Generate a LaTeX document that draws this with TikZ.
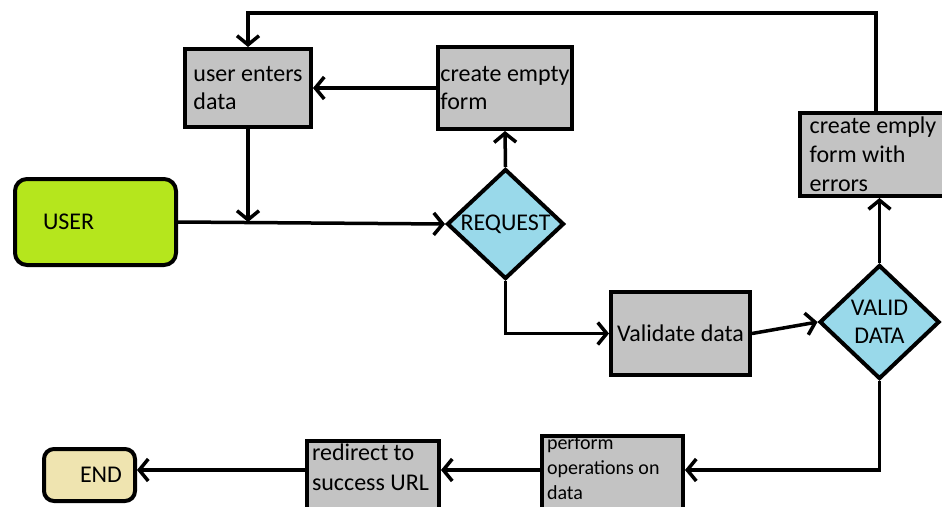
\documentclass[tikz,border=0pt]{standalone}
\usepackage{fontspec}
\setmainfont{Carlito}
\usetikzlibrary{shapes.geometric,arrows.meta}
\definecolor{boxgray}{HTML}{C3C3C3}
\definecolor{usergreen}{HTML}{B5E61D}
\definecolor{skyblue}{HTML}{99D9EA}
\definecolor{endsand}{HTML}{EFE4B0}

\begin{document}
\begin{tikzpicture}[x=1pt,y=-1pt,line width=4pt,
    every node/.style={font=\fontsize{24pt}{28pt}\selectfont,inner sep=0pt},
    box/.style={draw,fill=boxgray,align=left},
    term/.style={draw,rounded corners=12pt},
    dia/.style={diamond,draw,fill=skyblue,aspect=1,align=center},
    arr/.style={-{Straight Barb[length=9pt,width=22pt]},line width=3.5pt}]
  \useasboundingbox (0,0) rectangle (942,506);
  \clip (0,0) rectangle (942,506);
  \node[term,fill=usergreen,minimum width=161pt,minimum height=86pt,
    text width=105pt,inner xsep=28pt,align=flush left] (user) at (95.5,222) {USER};
  \node[box,minimum width=126pt,minimum height=78pt] (ued) at (248,88) {user enters\\data};
  \node[box,minimum width=134pt,minimum height=82pt] (cef) at (505,88) {create empty\\form};
  \node[dia,minimum width=117pt,minimum height=110pt] (req) at (505.5,224) {REQUEST};
  \node[box,minimum width=139pt,minimum height=83pt] (val) at (680.5,333.5) {Validate data};
  \node[dia,minimum width=120pt,minimum height=114pt] (vd) at (879.5,322) {VALID\\DATA};
  \node[box,minimum width=146pt,minimum height=83pt,
    font=\fontsize{24pt}{29pt}\selectfont] (cee) at (873,154.5) {create emply\\form with\\errors};
  \node[box,anchor=north,minimum width=141pt,text width=131pt,inner xsep=5pt,align=flush left,
    text depth=60pt,font=\fontsize{20pt}{25pt}\selectfont] (perf) at (612.5,434)
    {perform\\operations on\\data};
  \node[box,anchor=north,minimum width=132pt,text width=122pt,inner xsep=5pt,inner ysep=3pt,
    align=flush left,text depth=50pt,font=\fontsize{24pt}{30pt}\selectfont] (red) at (373,439)
    {redirect to\\success URL};
  \node[term,fill=endsand,rounded corners=10pt,minimum width=91pt,minimum height=52pt,
    text width=65pt,inner xsep=13pt,align=flush right] (end) at (89.5,475) {END};
  \coordinate (row) at (0,470);
  \coordinate (top) at (876,13);
  \draw[arr] (user.east) -- (req.west);
  \draw[arr] (ued.south) -- (ued.south |- user.east);
  \draw[arr] (cef.west) -- (ued.east);
  \draw[arr] (req.north) -- (cef.south);
  \draw[arr] (req.south) |- (val.west);
  \draw[arr] (val.east) -- (vd.west);
  \draw[arr] (vd.north) -- (vd.north |- cee.south);
  \draw[arr] (cee.north -| top) -- (top) -| (ued.north);
  \draw[arr] (vd.south) |- (perf.east |- row);
  \draw[arr] (perf.west |- row) -- (red.east |- row);
  \draw[arr] (red.west |- row) -- (end.east |- row);
\end{tikzpicture}
\end{document}
